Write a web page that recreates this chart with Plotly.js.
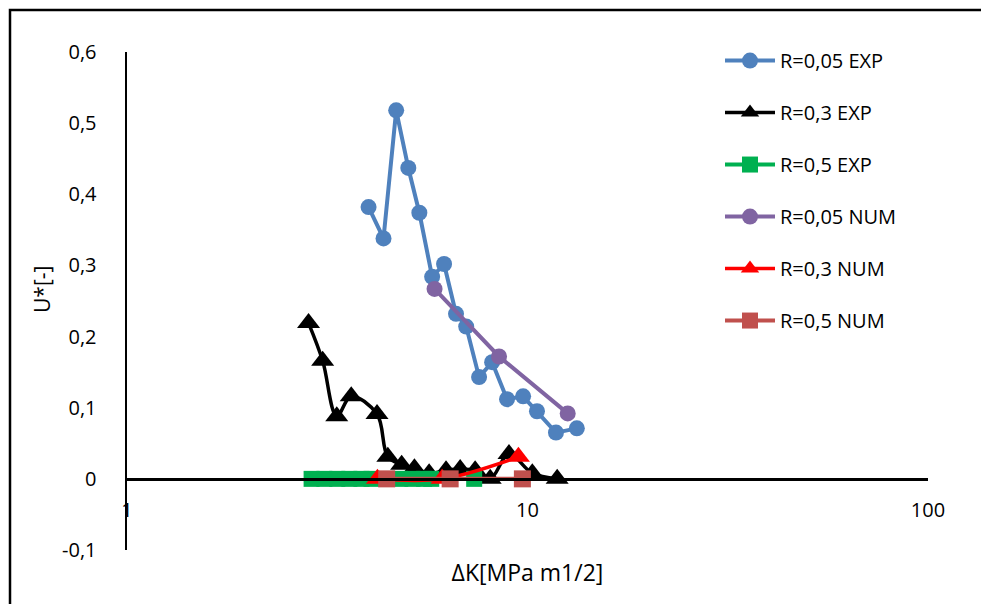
<!DOCTYPE html>
<html>
<head>
<meta charset="utf-8">
<script src="https://cdn.plot.ly/plotly-3.0.1.min.js"></script>
<style>html,body{margin:0;padding:0;background:#fff;}#chart{width:981px;height:604px;}</style>
</head>
<body>
<div id="chart"></div>
<script>
// R=0,05 EXP
const dk005exp = [4.01, 4.37, 4.70, 5.04, 5.37, 5.78, 6.19, 6.63, 7.03, 7.57, 8.16, 8.89, 9.75, 10.56, 11.78, 13.28];
const u005exp  = [0.382, 0.338, 0.518, 0.437, 0.374, 0.284, 0.302, 0.232, 0.214, 0.143, 0.164, 0.112, 0.116, 0.095, 0.065, 0.071];
// R=0,3 EXP
const dk03exp = [2.84, 3.08, 3.34, 3.63, 4.21, 4.48, 4.85, 5.22, 5.68, 6.26, 6.79, 7.40, 8.07, 8.99, 10.28, 11.86];
const u03exp  = [0.219, 0.166, 0.088, 0.116, 0.091, 0.031, 0.020, 0.015, 0.008, 0.012, 0.014, 0.012, 0.000, 0.035, 0.008, 0.000];
// R=0,5 EXP
const dk05exp = [2.89, 3.11, 3.35, 3.59, 3.85, 4.08, 4.81, 5.16, 5.52, 5.75, 7.36];
const u05exp  = [0, 0, 0, 0, 0, 0, 0, 0, 0, 0, 0];
// R=0,05 NUM
const dk005num = [5.86, 8.49, 12.6];
const u005num  = [0.267, 0.172, 0.092];
// R=0,3 NUM
const dk03num = [4.22, 6.12, 9.49];
const u03num  = [0.0, 0.0, 0.031];
// R=0,5 NUM
const dk05num = [4.45, 6.41, 9.71];
const u05num  = [0, 0, 0];

const seriesNames = ['R=0,05 EXP', 'R=0,3 EXP', 'R=0,5 EXP', 'R=0,05 NUM', 'R=0,3 NUM', 'R=0,5 NUM'];
const yTickVals = [-0.1, 0, 0.1, 0.2, 0.3, 0.4, 0.5, 0.6];
const yTickText = ['-0,1', '0', '0,1', '0,2', '0,3', '0,4', '0,5', '0,6'];
const xTickVals = [1, 10, 100];
const xTickText = ['1', '10', '100'];
const xTitle = 'ΔK[MPa m1/2]';
const yTitle = 'U*[-]';

const FONT = '"Open Sans", "Noto Sans", sans-serif';

function tr(x, y, name, color, symbol, msize, lw, shape, g) {
  return {
    x: x, y: y, name: name, type: 'scatter', mode: 'lines+markers',
    legendgroup: g,
    line: {color: color, width: lw, shape: shape, smoothing: 1},
    marker: {color: color, symbol: symbol, size: msize, line: {width: 0}},
    cliponaxis: false
  };
}

const data = [
  tr(dk005exp, u005exp, seriesNames[0], '#4F81BD', 'circle', 16, 4, 'linear', 'g1'),
  tr(dk03exp, u03exp, seriesNames[1], '#000000', 'triangle-up', 20, 3.5, 'spline', 'g2'),
  tr(dk05exp, u05exp, seriesNames[2], '#00B050', 'square', 16, 4, 'linear', 'g3'),
  tr(dk005num, u005num, seriesNames[3], '#8064A2', 'circle', 16, 4, 'linear', 'g4'),
  tr(dk03num, u03num, seriesNames[4], '#FF0000', 'triangle-up', 20, 3.5, 'spline', 'g5'),
  tr(dk05num, u05num, seriesNames[5], '#C0504D', 'square', 17, 4, 'linear', 'g6')
];

const layout = {
  width: 981, height: 604,
  margin: {l: 127, r: 53, t: 52, b: 54, pad: 0},
  paper_bgcolor: '#ffffff', plot_bgcolor: '#ffffff',
  font: {family: FONT, size: 20, color: '#000000'},
  showlegend: true,
  legend: {
    x: (720 - 127) / 801, xanchor: 'left', y: 1.022, yanchor: 'top',
    font: {family: FONT, size: 20, color: '#000000'},
    itemwidth: 50, tracegroupgap: 23, bgcolor: 'rgba(0,0,0,0)'
  },
  xaxis: {
    type: 'log', range: [0, 2],
    anchor: 'free', position: 0.1 / 0.7,
    showline: true, linecolor: '#000000', linewidth: 3,
    showgrid: false, zeroline: false,
    ticks: '', tickvals: xTickVals, ticktext: xTickText,
    ticklabelstandoff: 12,
    tickfont: {family: FONT, size: 20, color: '#000000'},
    title: {text: xTitle, font: {family: FONT, size: 23, color: '#000000'}, standoff: 43}
  },
  yaxis: {
    range: [-0.1, 0.6],
    showline: true, linecolor: '#000000', linewidth: 2.5,
    showgrid: false, zeroline: false,
    ticks: '', tickvals: yTickVals, ticktext: yTickText,
    ticklabelstandoff: 24,
    tickfont: {family: FONT, size: 20, color: '#000000'}
  },
  annotations: [{
    text: yTitle, xref: 'paper', yref: 'paper',
    x: (42 - 127) / 801, y: (550 - 290) / 498,
    xanchor: 'center', yanchor: 'middle', textangle: -90, showarrow: false,
    font: {family: FONT, size: 21, color: '#000000'}
  }],
  shapes: [{
    type: 'rect', xref: 'paper', yref: 'paper',
    x0: (10 - 127) / 801, x1: (995 - 127) / 801,
    y0: (550 - 620) / 498, y1: (550 - 10) / 498,
    line: {color: '#000000', width: 2.5}, fillcolor: 'rgba(0,0,0,0)', layer: 'below'
  }]
};

Plotly.newPlot('chart', data, layout, {staticPlot: true, displayModeBar: false});
</script>
</body>
</html>
